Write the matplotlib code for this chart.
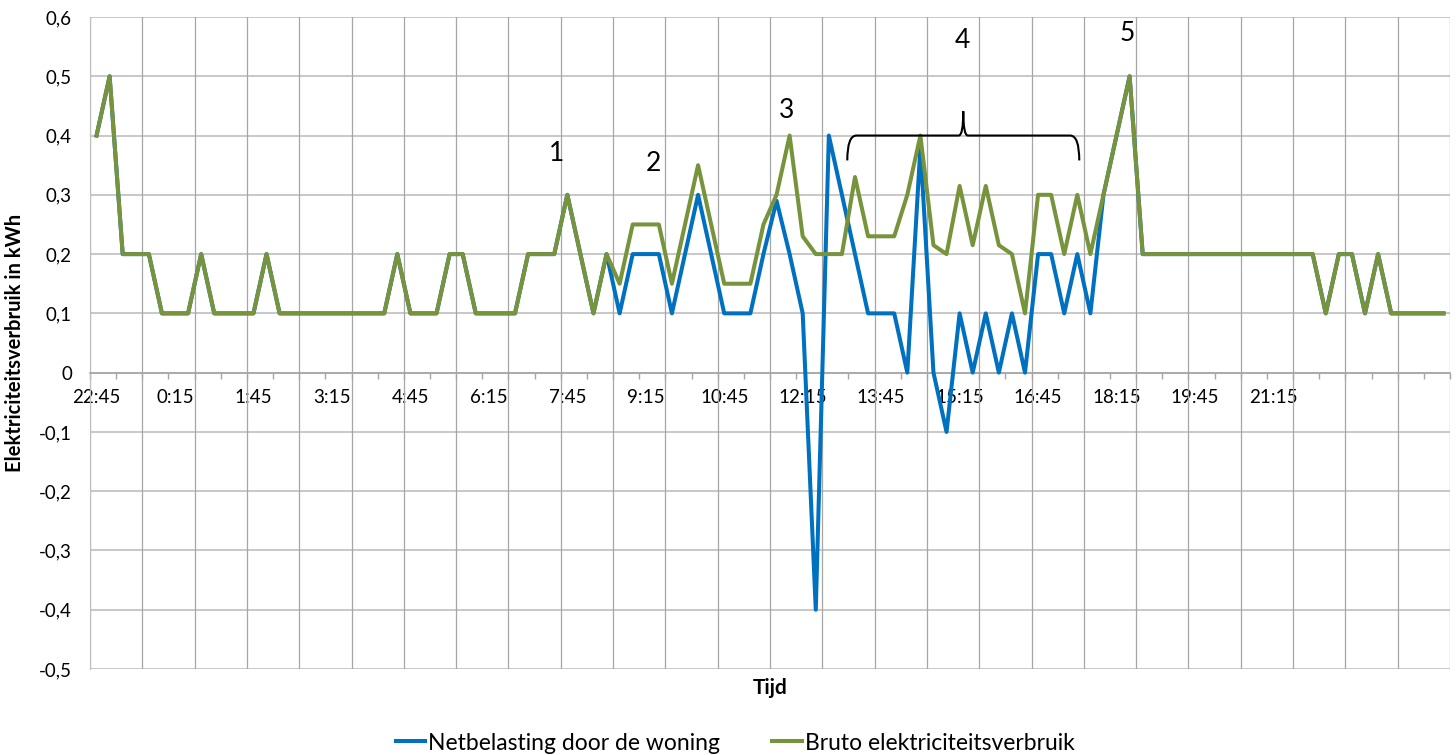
import numpy as np
import matplotlib
matplotlib.use("Agg")
import matplotlib.pyplot as plt
from matplotlib.path import Path
from matplotlib.patches import PathPatch

plt.rcParams['font.family'] = ['Lato', 'DejaVu Sans']

# kwartierwaarden, 104 categorieen vanaf 22:45
bruto = ([0.4, 0.5, 0.2, 0.2, 0.2, 0.1, 0.1, 0.1, 0.2, 0.1, 0.1, 0.1, 0.1, 0.2]
         + [0.1] * 9 + [0.2, 0.1, 0.1, 0.1, 0.2, 0.2, 0.1, 0.1, 0.1, 0.1]
         + [0.2, 0.2, 0.2, 0.3, 0.2, 0.1, 0.2, 0.15, 0.25, 0.25, 0.25, 0.15, 0.25, 0.35, 0.25,
            0.15, 0.15, 0.15, 0.25, 0.3, 0.4, 0.23, 0.2, 0.2, 0.2, 0.33, 0.23, 0.23, 0.23,
            0.3, 0.4, 0.215, 0.2, 0.315, 0.215, 0.315, 0.215, 0.2, 0.1, 0.3, 0.3, 0.2, 0.3,
            0.2, 0.3, 0.4, 0.5]
         + [0.2] * 14 + [0.1, 0.2, 0.2, 0.1, 0.2] + [0.1] * 5)

netto = (bruto[:40]
         + [0.1, 0.2, 0.2, 0.2, 0.1, 0.2, 0.3, 0.2, 0.1, 0.1, 0.1, 0.2, 0.29, 0.2, 0.1,
            -0.4, 0.4, 0.3, 0.2, 0.1, 0.1, 0.1, 0.0, 0.38, 0.0, -0.1, 0.1, 0.0, 0.1, 0.0,
            0.1, 0.0, 0.2, 0.2, 0.1, 0.2, 0.1, 0.3]
         + bruto[78:])

tijd_labels = ["22:45", "0:15", "1:45", "3:15", "4:45", "6:15", "7:45", "9:15", "10:45",
               "12:15", "13:45", "15:15", "16:45", "18:15", "19:45", "21:15"]

# nummers bij de pieken (categorie, waarde)
nummers = ["1", "2", "3", "4", "5"]
nummer_pos = [(35.2, 0.37), (42.6, 0.353), (52.8, 0.443), (66.2, 0.561), (78.8, 0.573)]

n = len(bruto)
x = np.arange(n)

fig = plt.figure(figsize=(14.56, 7.55), dpi=100)
ax = fig.add_axes([90 / 1456, 86 / 755, 1360 / 1456, 652 / 755])

blauw = "#0070C0"
groen = "#77933C"

ax.plot(x, netto, color=blauw, lw=2.9, label="Netbelasting door de woning", zorder=3)
ax.plot(x, bruto, color=groen, lw=2.9, label="Bruto elektriciteitsverbruik", zorder=4)

ax.set_xlim(-0.5, n - 0.5)
ax.set_ylim(-0.5, 0.6)

# rasterlijnen
yt = np.round(np.arange(-0.5, 0.61, 0.1), 1)
ax.set_yticks(yt)
ax.set_yticklabels([("%.1f" % v).replace(".", ",") if v != 0 else "0" for v in yt])
ax.yaxis.grid(True, color="#BFBFBF", lw=1.2)
for gx in np.arange(-0.5, n, 4):
    ax.axvline(gx, color="#A6A6A6", lw=0.9, zorder=1)
ax.set_axisbelow(True)

ax.set_xticks(np.arange(0, 91, 6))
ax.set_xticklabels(tijd_labels)
ax.set_xticks(np.arange(-0.5, n, 2), minor=True)
ax.tick_params(axis="x", which="major", length=0, pad=12, labelsize=13.5)
ax.tick_params(axis="x", which="minor", length=4, width=1, color="#A6A6A6", direction="out")
ax.tick_params(axis="y", length=0, pad=13, labelsize=13.5)

for s in ["top", "right"]:
    ax.spines[s].set_visible(False)
ax.spines["left"].set_color("#BFBFBF")
ax.spines["bottom"].set_position(("data", 0))
ax.spines["bottom"].set_color("#A6A6A6")
ax.spines["bottom"].set_linewidth(1.2)

ax.set_ylabel("Elektriciteitsverbruik in kWh", fontsize=14.5, fontweight="bold", labelpad=10)
fig.text(770 / 1456, 1 - 688 / 755, "Tijd", fontsize=15, fontweight="bold",
         ha="center", va="center")

for t, (cx, cy) in zip(nummers, nummer_pos):
    ax.text(cx, cy, t, fontsize=19, ha="center", va="center")

# accolade boven periode 4
bx0, bx1, bm = 57.41, 75.15, 66.28
yb, yl, yt_ = 0.400, 0.358, 0.441
verts = [(bx0, yl), (bx0, yb), (bx0 + 0.7, yb),
         (bm - 0.35, yb),
         (bm, yb), (bm, yt_),
         (bm, yb), (bm + 0.35, yb),
         (bx1 - 0.7, yb),
         (bx1, yb), (bx1, yl)]
codes = [Path.MOVETO, Path.CURVE3, Path.CURVE3, Path.LINETO,
         Path.CURVE3, Path.CURVE3, Path.CURVE3, Path.CURVE3,
         Path.LINETO, Path.CURVE3, Path.CURVE3]
ax.add_patch(PathPatch(Path(verts, codes), fill=False, color="black", lw=1.5, zorder=5))

fig.legend(loc="center", bbox_to_anchor=(735 / 1456, 1 - 743 / 755), ncol=2, frameon=False,
           fontsize=16.5, handlelength=1.3, handletextpad=0.1, columnspacing=2.3)

fig.savefig("out.png", dpi=100)
